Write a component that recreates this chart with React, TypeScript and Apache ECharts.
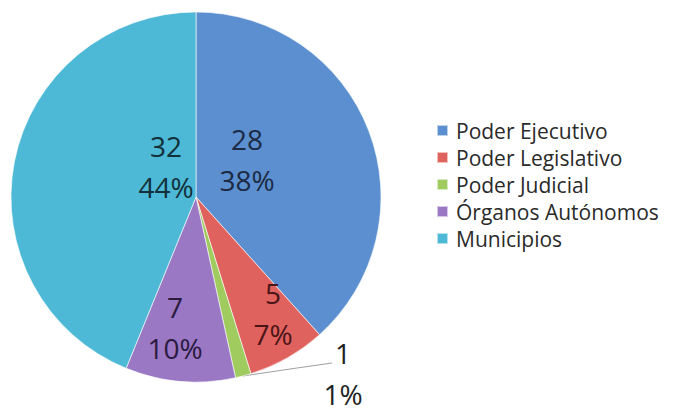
import React, { useEffect, useRef } from "react";
import * as echarts from "echarts";

const categories = ["Poder Ejecutivo", "Poder Legislativo", "Poder Judicial", "Órganos Autónomos", "Municipios"];
const values = [28, 5, 1, 7, 32];
const colors = ["#5b8fd0", "#e0625e", "#9fcb5f", "#9a78c4", "#4db9d6"];
const labelColors = ["#1c2a44", "#4a1518", "#222222", "#2a1a40", "#12303a"];

// label anchor points (layout only)
const labelPos: [number, number][] = [
  [247, 159],
  [273, 313],
  [343, 373],
  [175, 327],
  [166, 166],
];

export default function App() {
  const ref = useRef<HTMLDivElement>(null);
  useEffect(() => {
    if (!ref.current) return;
    const chart = echarts.init(ref.current, null, { renderer: "svg" });
    const font = "Open Sans";
    chart.setOption({
      animation: false,
      backgroundColor: "#ffffff",
      legend: {
        orient: "vertical",
        left: 431,
        top: 115,
        itemWidth: 11,
        itemHeight: 11,
        itemGap: 6,
        icon: "rect",
        data: categories,
        textStyle: {
          fontFamily: font,
          fontSize: 21,
          lineHeight: 21,
          color: "#2a2a2a",
          padding: [0, 0, 0, 3],
        },
      },
      series: [
        {
          type: "pie",
          center: [196, 197],
          radius: 185,
          startAngle: 90,
          clockwise: true,
          percentPrecision: 0,
          itemStyle: { borderColor: "rgba(255,255,255,0.6)", borderWidth: 1 },
          label: {
            position: "inside",
            formatter: "{c}\n{d}%",
            fontFamily: font,
            fontSize: 28,
            lineHeight: 41,
          },
          labelLine: { show: false },
          labelLayout: (params: any) => {
            const i = params.dataIndex;
            const p = labelPos[i];
            const res: any = { x: p[0], y: p[1], align: "center", verticalAlign: "middle" };
            if (i === 2) {
              res.labelLinePoints = [
                [243, 376],
                [290, 369],
                [332, 363],
              ];
            }
            return res;
          },
          emphasis: { disabled: true },
          data: categories.map((name, i) => ({
            name,
            value: values[i],
            itemStyle: { color: colors[i] },
            label: i === 2 ? { position: "outside", color: labelColors[i] } : { color: labelColors[i] },
            labelLine: i === 2 ? { show: true, lineStyle: { color: "#a0a0a0", width: 1 } } : { show: false },
          })),
        },
      ],
    });
    return () => chart.dispose();
  }, []);
  return <div ref={ref} style={{ position: "fixed", left: 0, top: 0, width: 674, height: 411 }} />;
}
